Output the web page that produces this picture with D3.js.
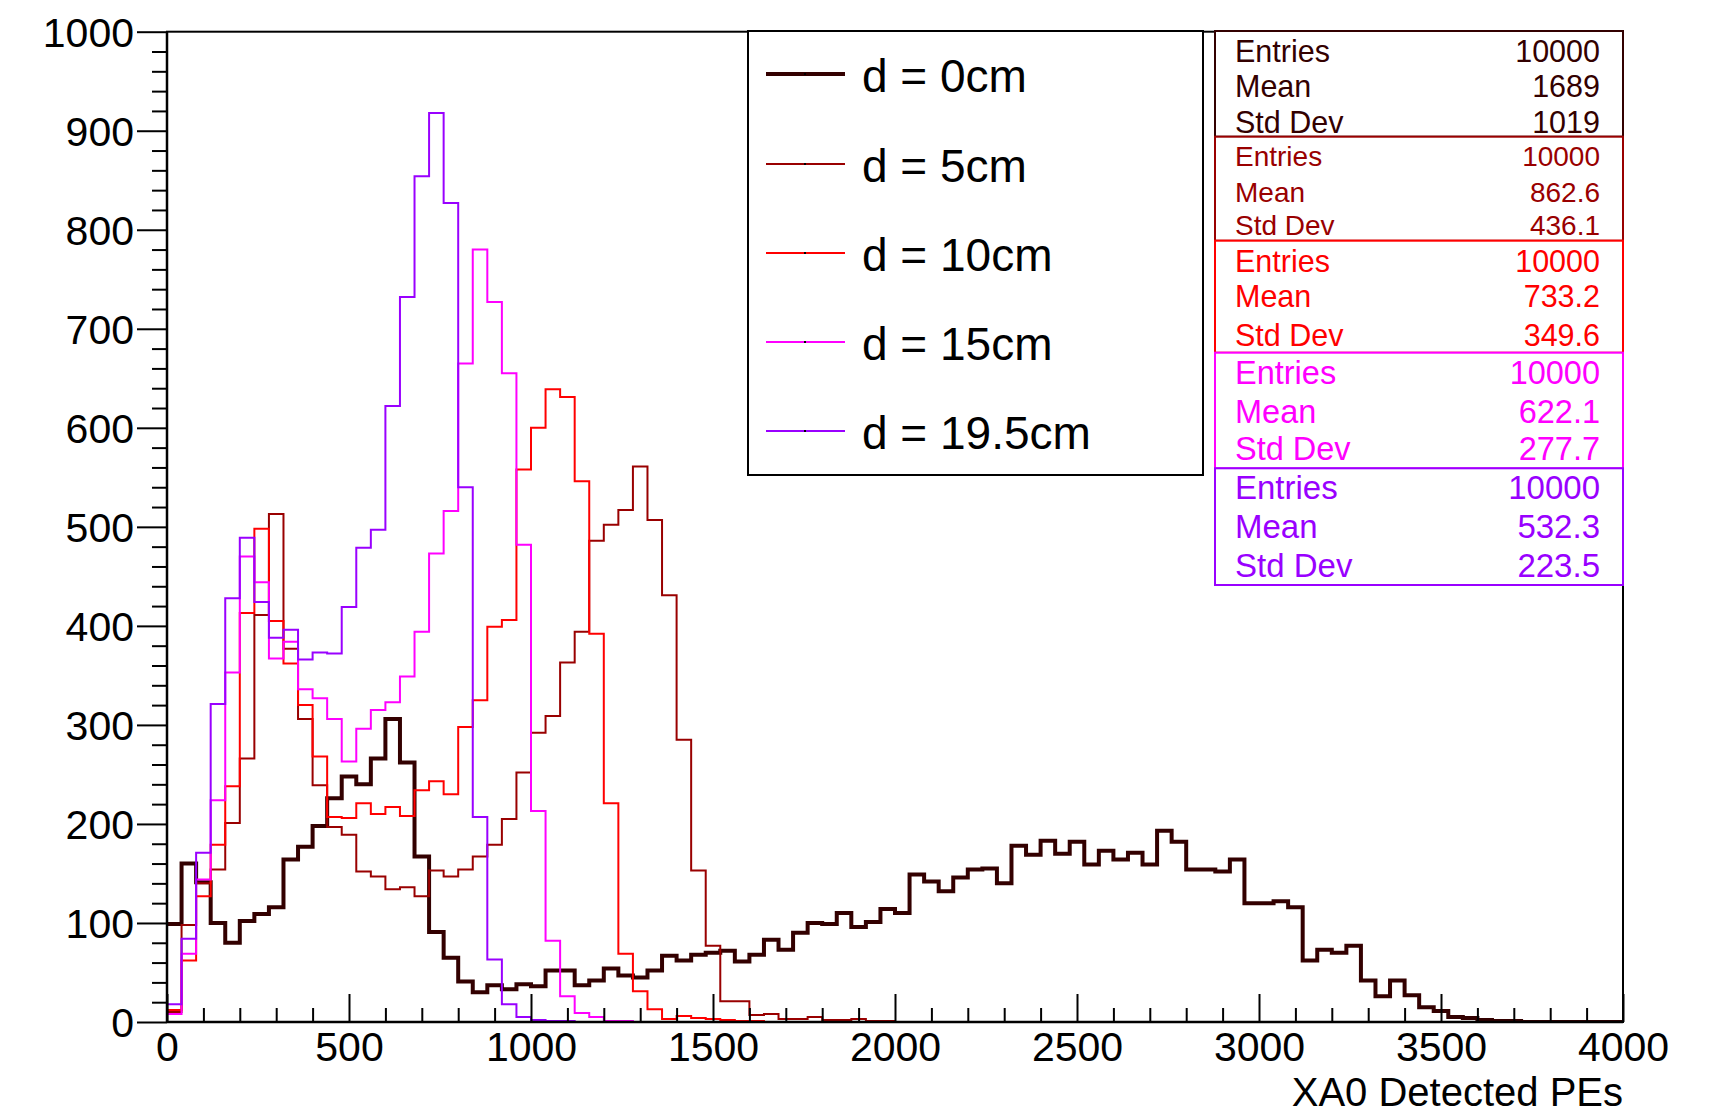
<!DOCTYPE html>
<html><head><meta charset="utf-8">
<script src="https://cdn.jsdelivr.net/npm/d3@7"></script>
<style>
body{margin:0;background:#fff}
svg{display:block}
text{font-family:"Liberation Sans",Arial,Helvetica,sans-serif}
</style>
</head><body>
<svg id="c" width="1716" height="1116"></svg>
<script>
// ---------------- data ----------------
const binWidth = 40;
const seriesNames = ["d = 0cm", "d = 5cm", "d = 10cm", "d = 15cm", "d = 19.5cm"];
const d0 = [99,160,141,100,80,102,109,116,164,177,198,226,248,240,266,306,262,167,91,65,
            41,30,37,33,38,36,52,52,37,42,54,47,45,52,67,62,68,70,72,61,
            68,83,73,90,100,99,110,96,101,114,110,149,142,132,146,154,155,140,178,169,
            183,170,182,159,173,164,171,159,193,182,154,154,152,164,120,120,122,116,62,73,
            70,77,42,26,42,27,15,11,5,4,2,1,1,0,0,0,0,0,0,0];
const d5 = [10,98,140,154,201,266,411,513,377,306,239,197,189,152,147,134,136,127,153,147,
            154,167,179,205,252,292,309,363,394,486,502,517,561,507,431,285,153,77,21,21,
            7,8,3,3,5,2,2,3,1,1];
const d10 = [12,62,127,179,238,413,498,405,362,320,268,207,206,221,210,217,208,234,243,230,
             298,325,399,406,558,600,639,631,546,392,221,69,31,13,3,6,4,3,2,1,
             1,0,0,0,0,0,0,0,0,0];
const d15 = [8,69,144,224,353,470,444,367,384,336,327,306,263,296,315,323,349,394,473,516,
             665,780,727,655,482,213,82,26,9,5,1,1,0,0,0,0,0,0,0,0,
             0,0,0,0,0,0,0,0,0,0];
const d195 = [18,84,171,321,428,489,424,388,396,366,373,372,419,479,497,622,732,854,918,827,
              540,207,63,18,5,2,1,1,0,0,0,0,0,0,0,0,0,0,0,0,
              0,0,0,0,0,0,0,0,0,0];
const statsEntries = ["10000", "10000", "10000", "10000", "10000"];
const statsMean = ["1689", "862.6", "733.2", "622.1", "532.3"];
const statsStd = ["1019", "436.1", "349.6", "277.7", "223.5"];
const xTicks = [0, 500, 1000, 1500, 2000, 2500, 3000, 3500, 4000];
const yTicks = [0, 100, 200, 300, 400, 500, 600, 700, 800, 900, 1000];
const xTitle = "XA0 Detected PEs";

// ---------------- styles ----------------
const colors = ["#330000", "#990000", "#ff0000", "#ff00ff", "#9900ff"];
const widths = [4, 2, 2, 2, 2];
const seriesData = [d0, d5, d10, d15, d195];

const svg = d3.select("#c");
const x = d3.scaleLinear().domain([0, 4000]).range([167, 1623]);
const y = d3.scaleLinear().domain([0, 1000]).range([1022, 31.7]);

svg.append("defs").append("clipPath").attr("id", "clip")
  .append("rect").attr("x", x(0)).attr("y", y(1000))
  .attr("width", x(4000) - x(0)).attr("height", y(0) - y(1000));

// histograms
const line = d3.line().x(d => x(d[0])).y(d => y(d[1])).curve(d3.curveStepAfter);
const gh = svg.append("g").attr("clip-path", "url(#clip)");
seriesData.forEach((vals, k) => {
  const pts = vals.map((v, i) => [i * binWidth, v]);
  pts.push([vals.length * binWidth, vals[vals.length - 1]]);
  gh.append("path").attr("d", line(pts))
    .attr("fill", "none").attr("stroke", colors[k]).attr("stroke-width", widths[k])
    .attr("stroke-linejoin", "miter");
});

// frame
svg.append("rect").attr("x", x(0)).attr("y", y(1000))
  .attr("width", x(4000) - x(0)).attr("height", y(0) - y(1000))
  .attr("fill", "none").attr("stroke", "#000").attr("stroke-width", 2);

// y axis
const gy = svg.append("g").attr("transform", `translate(${x(0)},0)`)
  .call(d3.axisLeft(y).tickValues(yTicks).tickSize(30).tickPadding(3).tickFormat(d3.format("d")));
gy.select(".domain").remove();
gy.selectAll("line").attr("stroke-width", 2);
gy.selectAll("text").attr("font-size", 41).attr("font-family", "Liberation Sans, Arial, sans-serif").attr("dy", "0.35em");
const gym = svg.append("g").attr("transform", `translate(${x(0)},0)`)
  .call(d3.axisLeft(y).tickValues(d3.range(0, 1001, 20).filter(v => v % 100 !== 0)).tickSize(15).tickFormat(""));
gym.select(".domain").remove();
gym.selectAll("line").attr("stroke-width", 2);

// x axis
const gx = svg.append("g").attr("transform", `translate(0,${y(0)})`)
  .call(d3.axisBottom(x).tickValues(xTicks).tickSize(-28).tickPadding(10).tickFormat(d3.format("d")));
gx.select(".domain").remove();
gx.selectAll("line").attr("stroke-width", 2);
gx.selectAll("text").attr("font-size", 41).attr("font-family", "Liberation Sans, Arial, sans-serif");
const gxm = svg.append("g").attr("transform", `translate(0,${y(0)})`)
  .call(d3.axisBottom(x).tickValues(d3.range(0, 4001, 100).filter(v => v % 500 !== 0)).tickSize(-14).tickFormat(""));
gxm.select(".domain").remove();
gxm.selectAll("line").attr("stroke-width", 2);

// axis lines on top
svg.append("line").attr("x1", x(0)).attr("x2", x(4000)).attr("y1", y(0)).attr("y2", y(0)).attr("stroke", "#000").attr("stroke-width", 2.5);
svg.append("line").attr("x1", x(0)).attr("x2", x(0)).attr("y1", y(0)).attr("y2", y(1000)).attr("stroke", "#000").attr("stroke-width", 2.5);

svg.append("text").attr("x", x(4000)).attr("y", 1106).attr("text-anchor", "end")
  .attr("font-size", 40).text(xTitle);

// legend
const lg = svg.append("g");
lg.append("rect").attr("x", 748).attr("y", 31).attr("width", 455).attr("height", 444)
  .attr("fill", "#fff").attr("stroke", "#000").attr("stroke-width", 2);
const rowY = [74, 164, 253, 342, 431];
seriesNames.forEach((name, k) => {
  lg.append("line").attr("x1", 766).attr("x2", 845).attr("y1", rowY[k]).attr("y2", rowY[k])
    .attr("stroke", colors[k]).attr("stroke-width", k === 0 ? 4 : 2);
  lg.append("rect").attr("x", 804).attr("y", rowY[k] - 1).attr("width", 2).attr("height", 2).attr("fill", "#000");
  lg.append("text").attr("x", 862).attr("y", rowY[k] + 18).attr("font-size", 46).attr("fill", "#000").text(name);
});

// stats boxes
const boxes = [
  {top: 31, bot: 136.7, fs: 30.5, base: [61.7, 97.3, 133.3]},
  {top: 136.7, bot: 240.7, fs: 28, base: [165.7, 201.7, 235]},
  {top: 240.7, bot: 352.7, fs: 30.5, base: [272.3, 307.3, 345.7]},
  {top: 352.7, bot: 468.3, fs: 32.5, base: [384.3, 422.7, 460]},
  {top: 468.3, bot: 585, fs: 33, base: [499.3, 538.3, 576.7]}
];
const sg = svg.append("g");
boxes.forEach((b, k) => {
  sg.append("rect").attr("x", 1215).attr("y", b.top).attr("width", 1623 - 1215).attr("height", b.bot - b.top)
    .attr("fill", "#fff").attr("stroke", colors[k]).attr("stroke-width", 2);
});
boxes.forEach((b, k) => {
  const labels = ["Entries", "Mean", "Std Dev"];
  const vals = [statsEntries[k], statsMean[k], statsStd[k]];
  labels.forEach((lab, j) => {
    sg.append("text").attr("x", 1235).attr("y", b.base[j]).attr("font-size", b.fs).attr("fill", colors[k]).text(lab);
    sg.append("text").attr("x", 1600).attr("y", b.base[j]).attr("font-size", b.fs).attr("fill", colors[k])
      .attr("text-anchor", "end").text(vals[j]);
  });
});
</script>
</body></html>
